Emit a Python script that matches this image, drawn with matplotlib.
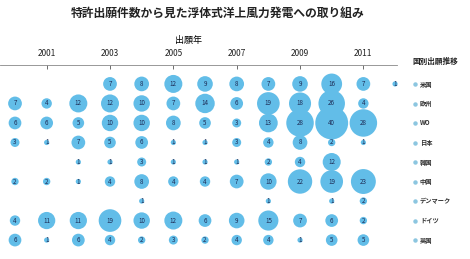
import matplotlib
matplotlib.use("Agg")
import matplotlib.pyplot as plt
from matplotlib.lines import Line2D
import numpy as np

plt.rcParams['font.family'] = ['Noto Sans CJK JP', 'DejaVu Sans']

title = "特許出願件数から見た浮体式洋上風力発電への取り組み"
years = list(range(2000, 2013))
tick_years = [2001, 2003, 2005, 2007, 2009, 2011]
countries = ["米国", "欧州", "WO", "日本", "韓国", "中国", "デンマーク", "ドイツ", "英国"]

# 出願件数 (0 = no filing)
us = [0, 0, 0, 7, 8, 12, 9, 8, 7, 9, 16, 7, 1]
ep = [7, 4, 12, 12, 10, 7, 14, 6, 19, 18, 26, 4, 0]
wo = [6, 6, 5, 10, 10, 8, 5, 3, 13, 28, 40, 28, 0]
jp = [3, 1, 7, 5, 6, 1, 1, 3, 4, 8, 2, 1, 0]
kr = [0, 0, 1, 1, 3, 1, 1, 1, 2, 4, 12, 0, 0]
cn = [2, 2, 1, 4, 8, 4, 4, 7, 10, 22, 19, 23, 0]
dk = [0, 0, 0, 0, 1, 0, 0, 0, 1, 0, 1, 2, 0]
de = [4, 11, 11, 19, 10, 12, 6, 9, 15, 7, 6, 2, 0]
gb = [6, 1, 6, 4, 2, 3, 2, 4, 4, 1, 5, 5, 0]
rows = [us, ep, wo, jp, kr, cn, dk, de, gb]

W, H = 470, 259
fig = plt.figure(figsize=(W / 100, H / 100), dpi=100)

# axes: top spine at y=65px, right end at x=397px
ax = fig.add_axes([0, 0, 397 / W, 1 - 65 / H])
px_per_year = 31.67
x0 = 2000 - 15 / px_per_year
ax.set_xlim(x0, x0 + 397 / px_per_year)
ax.set_ylim(-8.97, 0.97)

blue = '#62bde8'
for i, vals in enumerate(rows):
    vals = np.array(vals)
    yrs = np.array(years)
    m = vals > 0
    ax.scatter(yrs[m], np.full(m.sum(), -i), s=vals[m] * 14, color=blue,
               edgecolors='none', zorder=2, clip_on=False)
    for x, v in zip(yrs[m], vals[m]):
        ax.text(x, -i, str(v), ha='center', va='center', fontsize=4.5,
                color='#1d2b55', zorder=3)

ax.xaxis.tick_top()
ax.set_xticks(tick_years)
ax.set_xticklabels([str(y) for y in tick_years], fontsize=6)
ax.tick_params(axis='x', direction='in', length=3, width=0.6, pad=5,
               colors='#555555', labelcolor='#222222')
ax.set_yticks([])
for s in ['left', 'right', 'bottom']:
    ax.spines[s].set_visible(False)
ax.spines['top'].set_color('#888888')
ax.spines['top'].set_linewidth(0.6)

fig.text(189 / W, 1 - 40 / H, "出願年", ha='center', va='center', fontsize=6.5)
fig.text(218 / W, 1 - 13 / H, title, ha='center', va='center', fontsize=8.5,
         fontweight='bold', color='#222222')

# legend on the right
fig.text(435 / W, 1 - 61 / H, "国別出願推移", ha='center', va='center',
         fontsize=5.5, fontweight='bold', color='#222222')
for i, c in enumerate(countries):
    y = 1 - (84 + 19.5 * i) / H
    fig.add_artist(Line2D([415 / W], [y], marker='o', markersize=2.2,
                          color='#8cc6e0', linestyle='none',
                          transform=fig.transFigure))
    fig.text(420 / W, y, c, ha='left', va='center', fontsize=4.5,
             fontweight='bold', color='#333333')

fig.savefig("out.png", dpi=100)
